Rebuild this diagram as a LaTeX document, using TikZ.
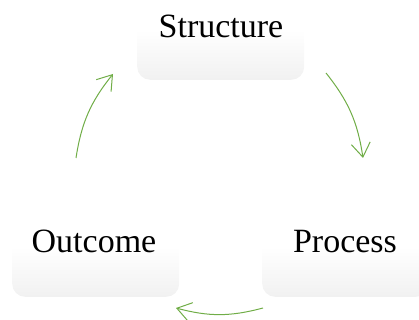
\documentclass[tikz,border=0pt]{standalone}
\usepackage{fontspec}
\setmainfont{Liberation Serif}
\usetikzlibrary{arrows.meta}
\definecolor{arrowgreen}{HTML}{70AD47}
\pgfdeclareverticalshading{boxshade}{100bp}{color(0bp)=(black!11); color(50bp)=(white); color(100bp)=(white)}
\begin{document}
\begin{tikzpicture}[x=1pt,y=1pt,
  cyclebox/.style={rounded corners=13pt, shading=boxshade, minimum width=167pt, minimum height=100pt, inner sep=0pt, anchor=south west},
  cyclelabel/.style={anchor=base, font=\fontsize{34}{40}\selectfont, inner sep=0pt},
  cyclearrow/.style={draw=arrowgreen, line width=1pt, -{Straight Barb[length=14pt,width=19pt]}, bend left=15}]
\useasboundingbox (0,0) rectangle (419,320);
\clip (0,0) rectangle (419,320);
% boxes
\node[cyclebox] (sbox) at (137,240) {};
\node[cyclebox] (obox) at (12,23) {};
\node[cyclebox] (pbox) at (262,23) {};
% labels
\node[cyclelabel] (slab) at (221,282) {Structure};
\node[cyclelabel] (olab) at (94,67) {Outcome};
\node[cyclelabel] (plab) at (345,67) {Process};
% arrow ends
\coordinate (a1s) at (76,162);
\coordinate (a1e) at (113,246);
\coordinate (a2s) at (326,247);
\coordinate (a2e) at (363,162);
\coordinate (a3s) at (263,12);
\coordinate (a3e) at (176,12);
\draw[cyclearrow] (a1s) to (a1e);
\draw[cyclearrow] (a2s) to (a2e);
\draw[cyclearrow] (a3s) to (a3e);
\end{tikzpicture}
\end{document}
